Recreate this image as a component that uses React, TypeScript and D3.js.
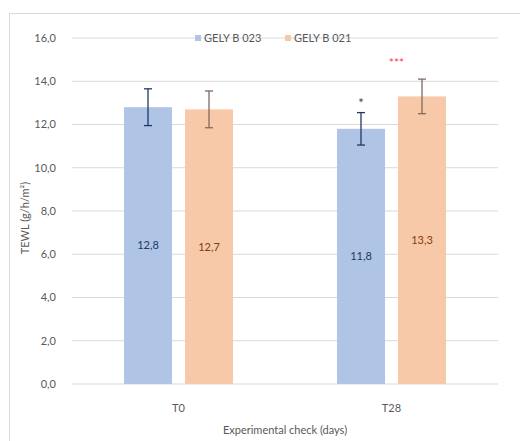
import React from "react";
import * as d3 from "d3";

// TEWL by experimental check and product
const categories = ["T0", "T28"];
const seriesNames = ["GELY B 023", "GELY B 021"];
const seriesValues = [
  [12.8, 11.8],
  [12.7, 13.3],
];
const seriesErrors = [
  [0.85, 0.75],
  [0.85, 0.8],
];
const seriesMarks = [
  ["", "*"],
  ["", "***"],
];
const yTicks = [0, 2, 4, 6, 8, 10, 12, 14, 16];

const W = 520;
const H = 441;
const margin = { left: 72, right: 22, top: 38, bottom: 57 };

const barFill = ["#b0c4e6", "#f8c9a9"];
const errColor = ["#203864", "#7f6a5e"];
const labelColor = ["#203864", "#843c0c"];
const markColor = ["#404040", "#ff3b3b"];
const textColor = "#595959";
const font = "Lato, 'Open Sans', sans-serif";

export default function App() {
  const x0 = d3
    .scaleBand<string>()
    .domain(categories)
    .range([margin.left, W - margin.right]);
  const y = d3
    .scaleLinear()
    .domain([0, 16])
    .range([H - margin.bottom, margin.top]);
  const barW = 48;
  const gap = 13;
  const fmt = (v: number) => v.toFixed(1).replace(".", ",");

  const barX = (ci: number, si: number) => {
    const c = x0(categories[ci])! + x0.bandwidth() / 2;
    return si === 0 ? c - gap / 2 - barW : c + gap / 2;
  };

  return (
    <svg
      width={W}
      height={H}
      style={{ position: "absolute", left: 0, top: 0, background: "#fff" }}
      fontFamily={font}
    >
      <rect x={9.5} y={13.5} width={W} height={H} fill="#fff" stroke="#d9d9d9" />
      {yTicks.map((t) => (
        <g key={t}>
          <line
            x1={margin.left}
            x2={W - margin.right}
            y1={y(t)}
            y2={y(t)}
            stroke="#d9d9d9"
            strokeWidth={1}
          />
          <text
            x={56}
            y={y(t)}
            dy="0.35em"
            textAnchor="end"
            fontSize={11}
            fill={textColor}
          >
            {fmt(t)}
          </text>
        </g>
      ))}
      {seriesValues.map((vals, si) =>
        vals.map((v, ci) => {
          const bx = barX(ci, si);
          const cx = bx + barW / 2;
          const e = seriesErrors[si][ci];
          const top = y(v + e);
          const bot = y(v - e);
          return (
            <g key={`${si}-${ci}`}>
              <rect
                x={bx}
                y={y(v)}
                width={barW}
                height={y(0) - y(v)}
                fill={barFill[si]}
              />
              <line x1={cx} x2={cx} y1={top} y2={bot} stroke={errColor[si]} strokeWidth={1.3} />
              <line x1={cx - 4} x2={cx + 4} y1={top} y2={top} stroke={errColor[si]} strokeWidth={1.3} />
              <line x1={cx - 4} x2={cx + 4} y1={bot} y2={bot} stroke={errColor[si]} strokeWidth={1.3} />
              <text
                x={cx}
                y={y(v / 2)}
                dy="0.35em"
                textAnchor="middle"
                fontSize={11}
                fill={labelColor[si]}
              >
                {fmt(v)}
              </text>
            </g>
          );
        })
      )}
      {/* significance markers */}
      <text
        x={barX(1, 0) + barW / 2}
        y={y(seriesValues[0][1] + seriesErrors[0][1]) - 14}
        dy="0.7em"
        textAnchor="middle"
        fontSize={13}
        fill={markColor[0]}
      >
        {seriesMarks[0][1]}
      </text>
      <text
        x={x0(categories[1])! + x0.bandwidth() / 2 + 5}
        y={y(seriesValues[1][1] + seriesErrors[1][1]) - 20}
        dy="0.7em"
        textAnchor="middle"
        fontSize={12}
        fill={markColor[1]}
      >
        {seriesMarks[1][1]}
      </text>
      {categories.map((c) => (
        <text
          key={c}
          x={x0(c)! + x0.bandwidth() / 2}
          y={408}
          dy="0.35em"
          textAnchor="middle"
          fontSize={11}
          fill={textColor}
        >
          {c}
        </text>
      ))}
      <text
        x={(margin.left + W - margin.right) / 2}
        y={430}
        dy="0.35em"
        textAnchor="middle"
        fontSize={11}
        fill={textColor}
      >
        Experimental check (days)
      </text>
      <text
        transform={`translate(25, 218) rotate(-90)`}
        dy="0.35em"
        textAnchor="middle"
        fontSize={11}
        fill={textColor}
      >
        TEWL (g/h/m²)
      </text>
      {/* legend */}
      {seriesNames.map((name, si) => {
        const lx = si === 0 ? 195 : 285;
        return (
          <g key={name}>
            <rect x={lx} y={y(16) - 3} width={6} height={6} fill={barFill[si]} />
            <text
              x={lx + 9}
              y={y(16)}
              dy="0.35em"
              fontSize={11}
              fill={textColor}
            >
              {name}
            </text>
          </g>
        );
      })}
    </svg>
  );
}
